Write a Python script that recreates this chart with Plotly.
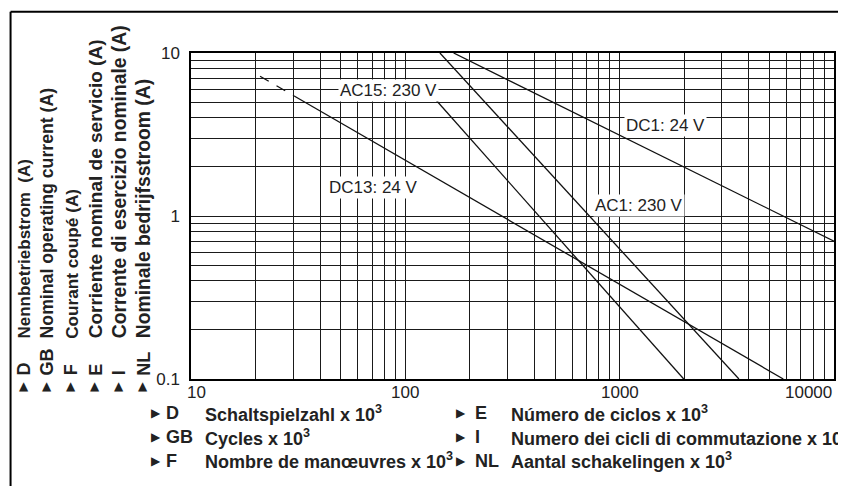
import plotly.graph_objects as go
import math

# ---------------- data ----------------
x_decades = [10, 100, 1000, 10000]
x_decade_labels = ["10", "100", "1000", "10000"]
y_decades = [0.1, 1, 10]
y_decade_labels = ["0.1", "1", "10"]

dc13_dash_x = [21, 30.3]
dc13_dash_y = [7.2, 5.45]
dc13_x = [30.3, 5800]
dc13_y = [5.45, 0.1]
ac15_x = [138, 1990]
ac15_y = [5.2, 0.1]
ac1_x = [145, 3600]
ac1_y = [10, 0.1]
dc1_x = [168, 10000]
dc1_y = [10, 0.70]

curve_labels = ["AC15: 230 V", "DC13: 24 V", "DC1: 24 V", "AC1: 230 V"]
curve_label_x = [83.8, 71, 1628, 1225]
curve_label_y = [5.9, 1.49, 3.6, 1.155]

y_codes = ["D", "GB", "F", "E", "I", "NL"]
y_titles = ["Nennbetriebstrom\u00a0\u00a0(A)", "Nominal operating current (A)", "Courant coupé (A)",
            "Corriente nominal de servicio (A)", "Corrente di esercizio nominale (A)",
            "Nominale bedrijfsstroom (A)"]
x_codes_left = ["D", "GB", "F"]
x_titles_left = ["Schaltspielzahl x 10<sup>3</sup>", "Cycles x 10<sup>3</sup>",
                 "Nombre de manœuvres x 10<sup>3</sup>"]
x_codes_right = ["E", "I", "NL"]
x_titles_right = ["Número de ciclos x 10<sup>3</sup>", "Numero dei cicli di commutazione x 10<sup>3</sup>",
                  "Aantal schakelingen x 10<sup>3</sup>"]

# ---------------- layout geometry (window pixels) ----------------
WIN_W, WIN_H = 846, 486
BODY = 8  # default page margin of the html body
PL, PR, PT, PB = 191, 836, 53, 379
FONT = "Liberation Sans, Arial, Helvetica, sans-serif"


def px(xp):
    return (xp - PL) / (PR - PL)


def py(yp):
    return (PB - yp) / (PB - PT)


# gridline values: every 1..9 multiple of each decade
x_grid = [m * d for d in x_decades[:-1] for m in range(1, 10)] + [x_decades[-1]]
y_grid = [m * d for d in y_decades[:-1] for m in range(1, 10)] + [y_decades[-1]]
y_grid_text = [(y_decade_labels[y_decades.index(v)] if v in y_decades else "") for v in y_grid]

fig = go.Figure()
line_style = dict(color="#111", width=1.3)
fig.add_trace(go.Scatter(x=dc13_dash_x, y=dc13_dash_y, mode="lines",
                         line=dict(color="#111", width=1.3, dash="10px,9px")))
for xs, ys in [(dc13_x, dc13_y), (ac15_x, ac15_y), (ac1_x, ac1_y), (dc1_x, dc1_y)]:
    fig.add_trace(go.Scatter(x=xs, y=ys, mode="lines", line=line_style))

annotations = []
for t, lx, ly in zip(curve_labels, curve_label_x, curve_label_y):
    annotations.append(dict(x=math.log10(lx), y=math.log10(ly), xref="x", yref="y", text=t,
                            showarrow=False, bgcolor="white", borderpad=1,
                            font=dict(family=FONT, size=17, color="#222")))

# x tick labels (last one right-aligned to the plot edge)
for i, (v, t) in enumerate(zip(x_decades, x_decade_labels)):
    anchor = "right" if i == len(x_decades) - 1 else "center"
    shift = 5 if i == 0 else 0
    annotations.append(dict(x=math.log10(v), y=py(392), xref="x", yref="paper", text=t,
                            showarrow=False, xanchor=anchor, yanchor="middle", xshift=shift,
                            font=dict(family=FONT, size=17, color="#222")))

tri = dict(family="DejaVu Sans", size=12, color="#222")
bold = dict(family=FONT, size=18, color="#222", weight="bold")

col_x = [23, 47, 71, 95, 119, 143]
col_size = [17, 17.7, 17.2, 19, 19.3, 19.3]
for cx, code, title, fs in zip(col_x, y_codes, y_titles, col_size):
    annotations.append(dict(x=px(cx), y=py(385.5), xref="paper", yref="paper", text="▲",
                            showarrow=False, xanchor="center", yanchor="middle", font=tri))
    annotations.append(dict(x=px(cx), y=py(377.5), xref="paper", yref="paper", text=code, textangle=-90,
                            showarrow=False, xanchor="center", yanchor="bottom", font=bold))
    annotations.append(dict(x=px(cx), y=py(340.5), xref="paper", yref="paper", text=title, textangle=-90,
                            showarrow=False, xanchor="center", yanchor="bottom",
                            font=dict(family=FONT, size=fs, color="#222", weight="bold")))

row_y = [413, 437, 461]
for cols in [(156, 164, 203, x_codes_left, x_titles_left), (462, 474, 510, x_codes_right, x_titles_right)]:
    tx, cx, tt, codes, titles = cols
    for ry, code, title in zip(row_y, codes, titles):
        annotations.append(dict(x=px(tx), y=py(ry), xref="paper", yref="paper", text="▶",
                                showarrow=False, xanchor="center", yanchor="middle", font=tri))
        annotations.append(dict(x=px(cx), y=py(ry), xref="paper", yref="paper", text=code,
                                showarrow=False, xanchor="left", yanchor="middle", font=bold))
        annotations.append(dict(x=px(tt), y=py(ry), xref="paper", yref="paper", text=title,
                                showarrow=False, xanchor="left", yanchor="middle", font=bold))

shapes = [
    dict(type="line", xref="paper", yref="paper", x0=px(10), x1=px(846), y0=py(11.7), y1=py(11.7),
         line=dict(color="black", width=2)),
    dict(type="line", xref="paper", yref="paper", x0=px(10), x1=px(10), y0=py(11.7), y1=py(486),
         line=dict(color="black", width=2)),
]

axis_common = dict(type="log", showgrid=True, gridcolor="#1a1a1a", gridwidth=1, zeroline=False,
                   showline=True, mirror=True, linecolor="black", linewidth=1.5, ticks="",
                   tickfont=dict(family=FONT, size=17, color="#222"))

fig.update_layout(
    width=WIN_W - BODY, height=WIN_H - BODY, autosize=False,
    margin=dict(l=PL - BODY, r=WIN_W - PR, t=PT - BODY, b=WIN_H - PB, pad=0),
    paper_bgcolor="white", plot_bgcolor="white", showlegend=False,
    xaxis=dict(range=[math.log10(x_decades[0]), math.log10(x_decades[-1])], tickmode="array",
               tickvals=x_grid, showticklabels=False, **axis_common),
    yaxis=dict(range=[math.log10(y_decades[0]), math.log10(y_decades[-1])], tickmode="array",
               tickvals=y_grid, ticktext=y_grid_text, ticklabelstandoff=6, **axis_common),
    annotations=annotations, shapes=shapes,
)

fig.write_html("out.html")
